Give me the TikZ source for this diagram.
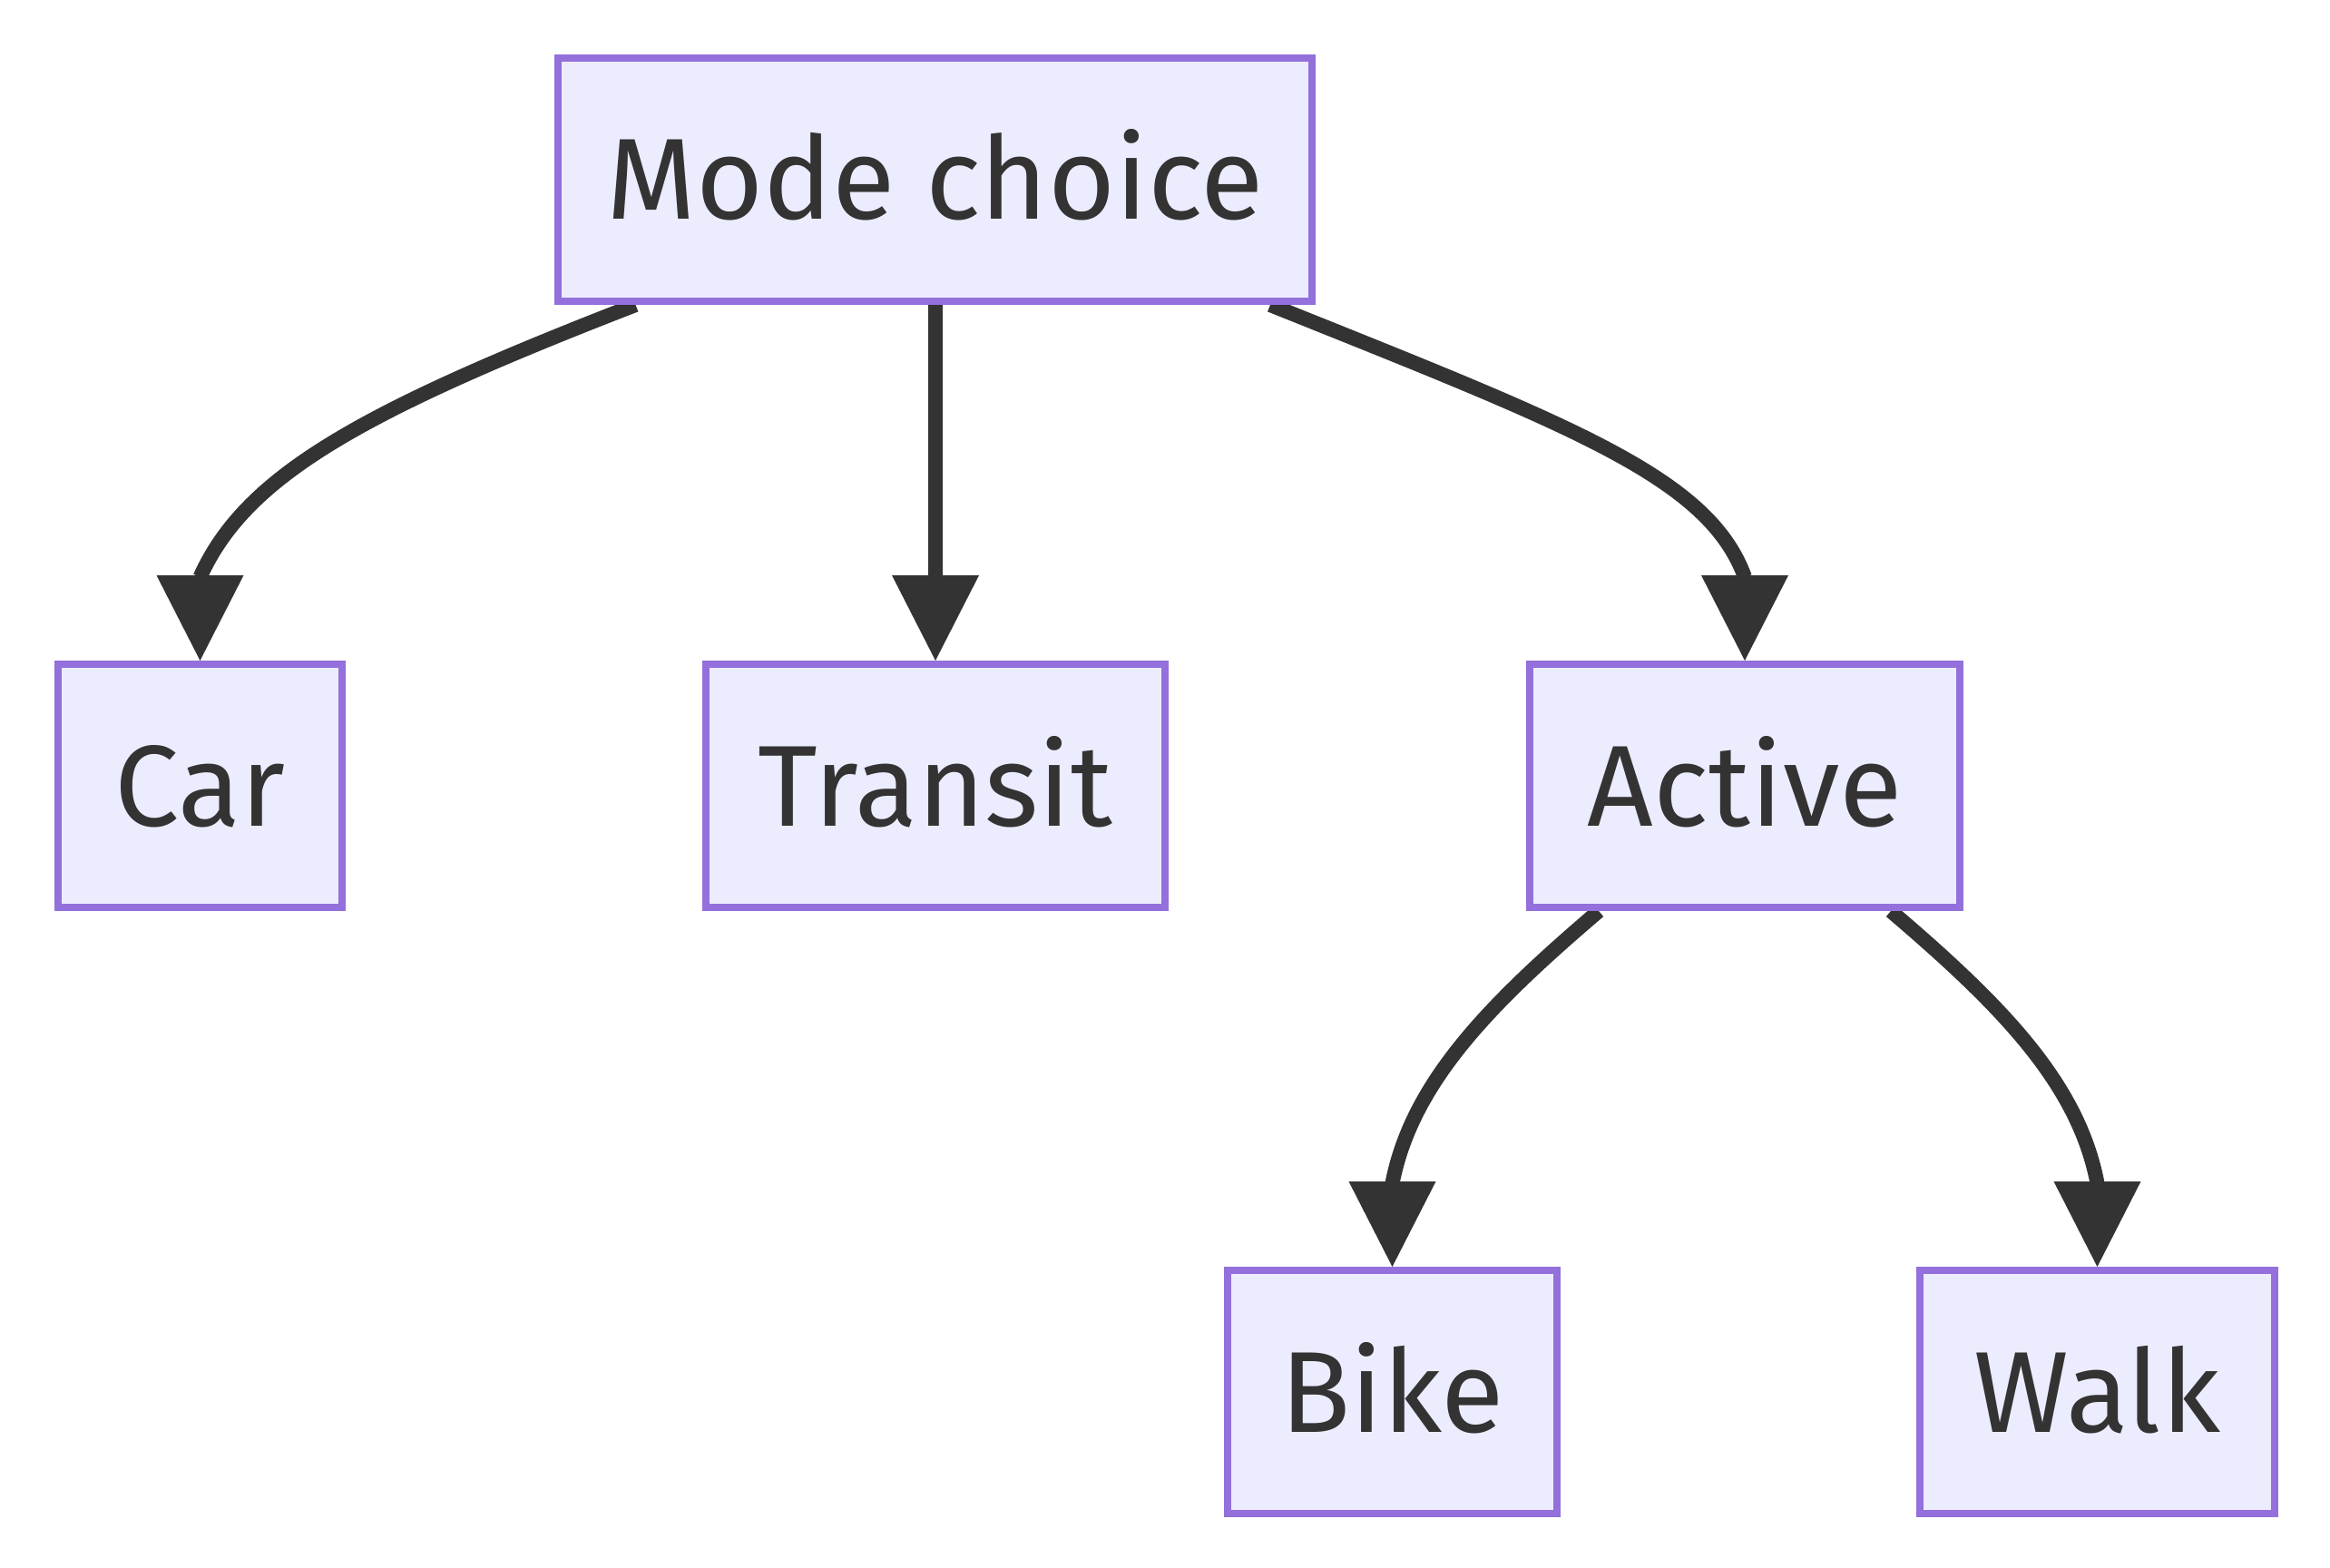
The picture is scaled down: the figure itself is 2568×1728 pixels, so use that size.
\documentclass[tikz,border=0pt]{standalone}
\usepackage{fontspec}
\setmainfont{Fira Sans}
\usetikzlibrary{calc,backgrounds}
\definecolor{nodefill}{HTML}{ECECFF}
\definecolor{nodeline}{HTML}{9370DB}
\definecolor{ink}{HTML}{333333}
\newcommand{\tiphead}[1]{\fill[ink] ($(#1.north)+(-48,-94)$) -- ($(#1.north)+(48,-94)$) -- (#1.north) -- cycle;}
\begin{document}
\begin{tikzpicture}[x=0.5pt,y=-0.5pt,
  box/.style={draw=nodeline, fill=nodefill, line width=3.85pt, rectangle, inner sep=0pt,
    minimum height=134.15pt, text=ink, font=\fontsize{63.5}{76}\selectfont,
    text height=44pt, text depth=0pt},
  edge/.style={draw=ink, line width=8pt}]
\useasboundingbox (0,0) rectangle (2568,1728);
\node[box, minimum width=415.65pt] (mode) at (1030.5,198) {Mode choice};
\node[box, minimum width=156.65pt] (car) at (220.5,866) {Car};
\node[box, minimum width=253.15pt] (transit) at (1031,866) {Transit};
\node[box, minimum width=237.15pt] (active) at (1923,866) {Active};
\node[box, minimum width=181.65pt] (bike) at (1534.5,1534) {Bike};
\node[box, minimum width=195.65pt] (walk) at (2311.5,1534) {Walk};
\begin{scope}[on background layer]
\fill[white] (0,0) rectangle (2568,1728);
\draw[edge] ($(mode.south)+(-330,0)$) .. controls (393,455) and (270,526)
  .. ($(car.north)+(0,-92)$);
\draw[edge] (mode.south -| transit.north) -- ($(transit.north)+(0,-92)$);
\draw[edge] ($(mode.south)+(369.5,0)$) .. controls (1734,470) and (1883,526)
  .. ($(active.north)+(0,-92)$);
\draw[edge] ($(active.south)+(-161,0)$) .. controls (1640,1108) and (1556,1194)
  .. ($(bike.north)+(0,-92)$);
\draw[edge] ($(active.south)+(161,0)$) .. controls (2206,1108) and (2290.5,1194)
  .. ($(walk.north)+(0,-92)$);
\end{scope}
\tiphead{car}
\tiphead{transit}
\tiphead{active}
\tiphead{bike}
\tiphead{walk}
\end{tikzpicture}
\end{document}
